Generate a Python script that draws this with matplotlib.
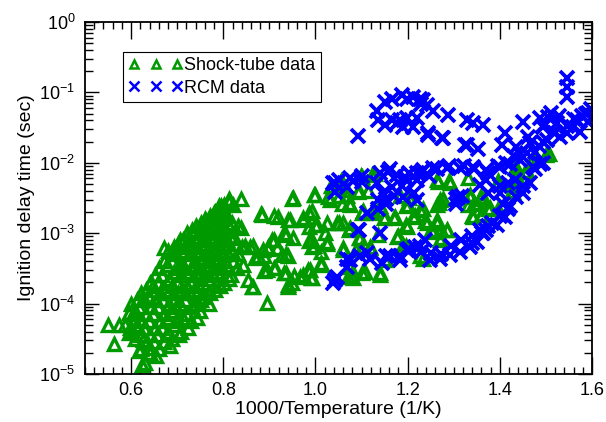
import numpy as np
import matplotlib
matplotlib.use('Agg')
import matplotlib.pyplot as plt
from matplotlib.ticker import MultipleLocator, LogLocator, FormatStrFormatter, NullFormatter

plt.rcParams['font.family'] = ['Liberation Sans', 'DejaVu Sans']
plt.rcParams['mathtext.fontset'] = 'custom'
plt.rcParams['mathtext.rm'] = 'Liberation Sans'

# ---- data: (1000/T, log10 of ignition delay in sec) ----
# dense high-temperature shock-tube cluster
st_cluster = [
    (0.600, -4.00), (0.604, -4.15), (0.598, -4.35),
    (0.612, -3.95), (0.608, -4.10), (0.613, -4.30), (0.609, -4.50),
    (0.622, -3.85), (0.618, -4.05), (0.623, -4.25), (0.619, -4.45), (0.621, -4.65),
    (0.632, -3.80), (0.628, -3.95), (0.633, -4.15), (0.629, -4.35), (0.634, -4.55), (0.630, -4.85),
    (0.641, -3.70), (0.638, -3.90), (0.643, -4.05), (0.639, -4.25), (0.642, -4.45), (0.640, -4.70),
    (0.652, -3.60), (0.648, -3.75), (0.653, -3.95), (0.647, -4.15), (0.651, -4.35), (0.649, -4.55), (0.654, -4.75),
    (0.661, -3.50), (0.658, -3.70), (0.663, -3.85), (0.659, -4.05), (0.662, -4.25), (0.657, -4.45), (0.661, -4.65),
    (0.672, -3.40), (0.668, -3.60), (0.673, -3.80), (0.669, -3.95), (0.671, -4.15), (0.667, -4.35), (0.672, -4.55),
    (0.681, -3.25), (0.678, -3.45), (0.683, -3.65), (0.679, -3.85), (0.682, -4.00), (0.677, -4.20), (0.681, -4.40), (0.684, -4.60),
    (0.692, -3.20), (0.688, -3.40), (0.693, -3.55), (0.689, -3.75), (0.691, -3.95), (0.687, -4.10), (0.692, -4.30), (0.688, -4.50),
    (0.701, -3.15), (0.698, -3.30), (0.703, -3.50), (0.699, -3.70), (0.702, -3.85), (0.697, -4.05), (0.701, -4.25), (0.703, -4.45),
    (0.712, -3.10), (0.708, -3.25), (0.713, -3.45), (0.709, -3.60), (0.711, -3.80), (0.707, -4.00), (0.712, -4.20), (0.709, -4.40),
    (0.721, -3.00), (0.718, -3.20), (0.723, -3.40), (0.719, -3.55), (0.722, -3.75), (0.717, -3.95), (0.721, -4.15), (0.723, -4.35),
    (0.732, -2.95), (0.728, -3.15), (0.733, -3.30), (0.729, -3.50), (0.731, -3.70), (0.727, -3.85), (0.732, -4.05), (0.729, -4.25),
    (0.741, -2.90), (0.738, -3.10), (0.743, -3.25), (0.739, -3.45), (0.742, -3.60), (0.737, -3.80), (0.741, -4.00), (0.743, -4.20),
    (0.752, -2.85), (0.748, -3.05), (0.753, -3.20), (0.749, -3.40), (0.751, -3.55), (0.747, -3.75), (0.752, -3.95), (0.749, -4.10),
    (0.761, -2.80), (0.758, -3.00), (0.763, -3.15), (0.759, -3.35), (0.762, -3.50), (0.757, -3.70), (0.761, -3.90),
    (0.772, -2.75), (0.768, -2.95), (0.773, -3.10), (0.769, -3.30), (0.771, -3.45), (0.767, -3.65), (0.772, -3.85), (0.769, -4.00),
    (0.781, -2.70), (0.778, -2.90), (0.783, -3.05), (0.779, -3.25), (0.782, -3.40), (0.777, -3.60), (0.781, -3.80),
    (0.792, -2.65), (0.788, -2.85), (0.793, -3.00), (0.789, -3.20), (0.791, -3.35), (0.787, -3.55), (0.792, -3.75),
    (0.795, -2.62), (0.797, -2.68), (0.794, -2.72), (0.796, -2.78),
    (0.801, -2.60), (0.798, -2.80), (0.803, -2.95), (0.799, -3.15), (0.802, -3.30), (0.797, -3.50), (0.801, -3.70),
    (0.812, -2.55), (0.808, -2.75), (0.813, -2.90), (0.809, -3.10), (0.811, -3.30), (0.807, -3.45), (0.812, -3.65),
    (0.821, -2.60), (0.818, -2.85), (0.823, -3.05), (0.819, -3.25), (0.822, -3.40), (0.817, -3.60),
    (0.832, -2.90), (0.828, -3.15), (0.833, -3.30), (0.829, -3.50),
    (0.841, -3.20), (0.843, -3.45),
]

# scattered shock-tube points
st_scatter = [
    (0.549, -4.31), (0.562, -4.58), (0.574, -4.30), (0.587, -4.30), (0.596, -4.42),
    (0.601, -4.37), (0.596, -4.13), (0.617, -4.68), (0.624, -4.87), (0.626, -4.51),
    (0.638, -4.63), (0.672, -3.21), (0.706, -3.09), (0.762, -2.83), (0.779, -2.71),
    (0.791, -2.62), (0.813, -2.52), (0.838, -2.52), (0.838, -2.92), (0.817, -3.07),
    (0.854, -3.66), (0.862, -3.76), (0.894, -3.99), (0.881, -2.73), (0.911, -2.76),
    (0.949, -2.51), (0.996, -2.45), (0.940, -2.81), (0.974, -2.78), (0.987, -2.71),
    (1.000, -2.88), (1.026, -2.85), (1.051, -2.85), (1.072, -2.95), (0.906, -3.09),
    (0.932, -3.00), (0.936, -3.30), (0.898, -3.23), (0.889, -3.33), (0.868, -3.35),
    (0.847, -3.18), (0.864, -3.18), (0.911, -3.49), (0.889, -3.54), (0.932, -3.56),
    (0.940, -3.73), (0.953, -3.61), (0.974, -3.59), (0.983, -3.52), (0.991, -3.64),
    (1.013, -3.45), (1.026, -3.16), (1.021, -3.00), (0.996, -3.18), (0.987, -3.11),
    (1.034, -2.33), (1.055, -2.26), (1.051, -2.47), (1.068, -2.47), (1.072, -2.57),
    (1.098, -2.19), (1.123, -2.17), (1.115, -2.40), (1.094, -2.40), (1.102, -2.71),
    (1.123, -2.71), (1.140, -2.62), (1.149, -2.78), (1.170, -2.78), (1.183, -2.47),
    (1.196, -2.62), (1.204, -2.50), (1.217, -2.76), (1.234, -2.66), (1.196, -2.88),
    (1.238, -2.83), (1.251, -2.95), (1.264, -2.81), (1.268, -2.57), (1.277, -2.52),
    (1.264, -2.24), (1.289, -2.26), (1.272, -2.95), (1.285, -2.95), (1.272, -3.07),
    (1.332, -2.21), (1.336, -2.45), (1.345, -2.57), (1.357, -2.50), (1.366, -2.52),
    (1.340, -2.76), (1.361, -2.73), (1.379, -2.64), (1.396, -2.66), (1.396, -2.26),
    (1.426, -2.40), (1.434, -2.26), (1.438, -2.09), (1.460, -2.12), (1.481, -1.95),
    (1.506, -1.87), (1.226, -3.33), (1.153, -3.37), (1.140, -3.56), (1.119, -3.21),
    (1.136, -3.02), (1.094, -3.07), (1.098, -3.23), (1.072, -3.47), (1.077, -3.61),
    (1.102, -3.56), (1.060, -3.21), (1.179, -3.04), (1.196, -3.18),
    (0.952, -2.50), (0.999, -2.46), (1.028, -2.48), (1.057, -2.27), (1.100, -2.20),
    (1.129, -2.16), (1.068, -2.39), (1.032, -2.53), (1.057, -2.58), (1.075, -2.60),
    (1.093, -2.41), (1.104, -2.69), (1.125, -2.67), (1.151, -2.77), (1.172, -2.77),
    (1.201, -2.60), (1.212, -2.77), (1.198, -2.91), (1.227, -2.67), (0.883, -2.74),
    (0.919, -2.77), (0.945, -2.81), (0.974, -2.81), (0.992, -2.69), (1.003, -2.88),
    (0.985, -2.91), (1.046, -2.86), (1.060, -2.86), (1.075, -2.93), (0.937, -3.03),
    (0.952, -3.07), (0.992, -3.10), (1.024, -3.12), (0.992, -3.19), (1.013, -3.26),
    (0.909, -3.10), (0.898, -3.19), (0.916, -3.21), (0.887, -3.24), (0.876, -3.33),
    (0.927, -3.31), (0.941, -3.33), (0.858, -3.19), (1.013, -3.43), (1.060, -3.24),
    (1.089, -3.24), (1.118, -3.19), (1.097, -3.07), (1.176, -3.05), (1.191, -3.17),
    (0.894, -3.52), (0.912, -3.50), (0.937, -3.57), (0.966, -3.62), (0.988, -3.52),
    (0.992, -3.64), (0.948, -3.71), (0.941, -3.76), (0.865, -3.76), (1.075, -3.48),
    (1.071, -3.62), (1.082, -3.64), (1.107, -3.55), (1.140, -3.59), (1.151, -3.38),
    (1.266, -2.27), (1.292, -2.29), (1.393, -2.30), (1.433, -2.08), (1.454, -2.13),
    (1.436, -2.17), (1.426, -2.32), (1.429, -2.41), (1.473, -1.94), (1.501, -1.89),
    (1.335, -2.48), (1.360, -2.48), (1.353, -2.58), (1.332, -2.60), (1.342, -2.77),
    (1.360, -2.74), (1.375, -2.65), (1.270, -2.53), (1.263, -2.60), (1.241, -2.86),
    (1.263, -2.86), (1.285, -2.96), (1.256, -2.98), (1.270, -3.10), (1.234, -3.36),
]

# rapid compression machine points
rcm_points = [
    # upper branch
    (1.093, -1.62), (1.136, -1.39), (1.133, -1.27), (1.151, -1.46), (1.165, -1.39),
    (1.176, -1.44), (1.183, -1.39), (1.198, -1.37), (1.191, -1.49), (1.212, -1.49),
    (1.220, -1.37), (1.151, -1.13), (1.165, -1.09), (1.187, -1.04), (1.198, -1.09),
    (1.212, -1.06), (1.227, -1.09), (1.230, -1.16), (1.241, -1.18), (1.256, -1.27),
    (1.288, -1.32), (1.245, -1.58), (1.277, -1.65), (1.324, -1.75), (1.328, -1.39),
    (1.234, -1.11), (1.245, -1.61), (1.274, -1.65), (1.342, -1.44), (1.364, -1.46),
    (1.328, -1.75), (1.353, -1.80), (1.411, -1.58), (1.404, -1.75), (1.451, -1.42),
    (1.462, -1.63), (1.487, -1.37), (1.505, -1.35), (1.494, -1.49), (1.523, -1.44),
    (1.516, -1.56), (1.530, -1.63), (1.545, -1.58), (1.559, -1.49), (1.567, -1.39),
    (1.581, -1.35), (1.588, -1.30), (1.592, -1.42), (1.574, -1.56), (1.545, -0.80),
    (1.545, -0.92), (1.545, -1.06), (1.465, -1.72), (1.476, -1.84), (1.494, -1.70),
    (1.436, -1.77), (1.443, -1.87), (1.472, -2.06), (1.487, -2.01), (1.528, -1.34),
    (1.511, -1.29), (1.494, -1.48), (1.545, -1.48), (1.562, -1.38), (1.579, -1.34),
    (1.591, -1.29), (1.598, -1.24), (1.502, -1.67), (1.519, -1.57), (1.485, -1.76),
    # middle band
    (1.039, -2.29), (1.042, -2.41), (1.075, -2.22), (1.068, -2.34), (1.100, -2.27),
    (1.133, -2.29), (1.158, -2.13), (1.176, -2.17), (1.194, -2.20), (1.220, -2.15),
    (1.147, -2.43), (1.165, -2.34), (1.136, -2.53), (1.154, -2.58), (1.191, -2.48),
    (1.220, -2.53), (1.043, -2.28), (1.051, -2.24), (1.081, -2.26), (1.102, -2.19),
    (1.140, -2.14), (1.162, -2.09), (1.204, -2.14), (1.221, -2.24), (1.264, -2.09),
    (1.289, -2.05), (1.323, -2.05), (1.345, -2.09), (1.374, -2.14), (1.396, -2.05),
    (1.413, -2.00), (1.430, -1.91), (1.460, -1.86), (1.234, -2.10), (1.256, -2.08),
    (1.285, -2.08), (1.313, -2.08), (1.342, -2.06), (1.371, -2.10), (1.400, -2.06),
    (1.422, -2.01), (1.443, -1.96), (1.477, -2.09), (1.494, -2.00),
    (1.111, -2.71), (1.136, -2.66), (1.153, -2.52), (1.170, -2.47), (1.187, -2.33),
    (1.196, -2.24), (1.213, -2.43), (1.230, -2.14), (1.247, -2.19), (1.306, -2.52),
    (1.319, -2.47), (1.374, -2.43), (1.400, -2.33), (1.417, -2.28), (1.434, -2.24),
    (1.451, -2.33), (1.371, -2.25), (1.357, -2.32), (1.310, -2.48), (1.306, -2.58),
    (1.400, -2.43), (1.093, -2.96), (1.140, -3.00),
    # lower branch
    (1.465, -2.29), (1.451, -2.43), (1.436, -2.48), (1.407, -2.58), (1.422, -2.62),
    (1.411, -2.77), (1.393, -2.88), (1.371, -2.96), (1.364, -3.00), (1.350, -3.12),
    (1.335, -3.19), (1.313, -3.26), (1.292, -3.31), (1.270, -3.36), (1.248, -3.38),
    (1.417, -2.66), (1.400, -2.76), (1.383, -2.85), (1.362, -2.99), (1.340, -3.14),
    (1.043, -3.66), (1.068, -3.37), (1.094, -2.95), (1.111, -3.28), (1.153, -3.33),
    (1.183, -3.33), (1.204, -3.23), (1.226, -3.18), (1.238, -3.09), (1.251, -3.28),
    (1.272, -3.30), (1.294, -3.18), (1.315, -3.09), (1.340, -3.04), (1.357, -2.95),
    (1.374, -2.90), (1.075, -3.38), (1.097, -3.33), (1.118, -3.36), (1.144, -3.43),
    (1.162, -3.33), (1.183, -3.38), (1.198, -3.24), (1.216, -3.19), (1.230, -3.26),
    (1.046, -3.62), (1.039, -3.71), (1.068, -3.48),
]

st_x = np.array([p[0] for p in st_cluster + st_scatter])
st_tau = np.power(10.0, [p[1] for p in st_cluster + st_scatter])
rcm_x = np.array([p[0] for p in rcm_points])
rcm_tau = np.power(10.0, [p[1] for p in rcm_points])

green = '#009900'
blue = '#0000ff'

fig = plt.figure(figsize=(6.06, 4.22), dpi=100)
ax = fig.add_axes([0.1403, 0.1137, 0.8366, 0.8341])

ax.plot(st_x, st_tau, linestyle='none', marker='^', markersize=8.5,
        markerfacecolor='none', markeredgecolor=green, markeredgewidth=2.4,
        label='Shock-tube data')
ax.plot(rcm_x, rcm_tau, linestyle='none', marker='x', markersize=10,
        color=blue, markeredgewidth=2.7, label='RCM data')

ax.set_yscale('log')
ax.set_xlim(0.5, 1.6)
ax.set_ylim(1e-5, 1e0)

ax.xaxis.set_major_locator(MultipleLocator(0.2))
ax.xaxis.set_minor_locator(MultipleLocator(0.02))
ax.xaxis.set_major_formatter(FormatStrFormatter('%.1f'))
ax.yaxis.set_major_locator(LogLocator(base=10, numticks=10))
ax.yaxis.set_minor_locator(LogLocator(base=10, subs=np.arange(2, 10), numticks=20))
ax.yaxis.set_minor_formatter(NullFormatter())

ax.tick_params(which='both', direction='in', top=True, right=True,
               width=1.0, labelsize=13)
ax.tick_params(axis='x', which='major', length=12, pad=6)
ax.tick_params(axis='x', which='minor', length=5)
ax.tick_params(axis='y', which='major', length=10, pad=7)
ax.tick_params(axis='y', which='minor', length=6)
for s in ax.spines.values():
    s.set_linewidth(1.3)

ax.set_xlabel('1000/Temperature (1/K)', fontsize=14, labelpad=1)
ax.set_ylabel('Ignition delay time (sec)', fontsize=14, labelpad=3)

leg = ax.legend(loc='upper left', bbox_to_anchor=(0.075, 0.915), borderaxespad=0,
                numpoints=3, markerscale=0.75, fontsize=13, handlelength=3.0,
                handletextpad=0.1, borderpad=0.3, labelspacing=0.3,
                fancybox=False, framealpha=1, edgecolor='black')
leg.get_frame().set_linewidth(0.8)
for h in leg.legend_handles:
    h.set_markeredgewidth(1.8)

fig.savefig('out.png', dpi=100)
